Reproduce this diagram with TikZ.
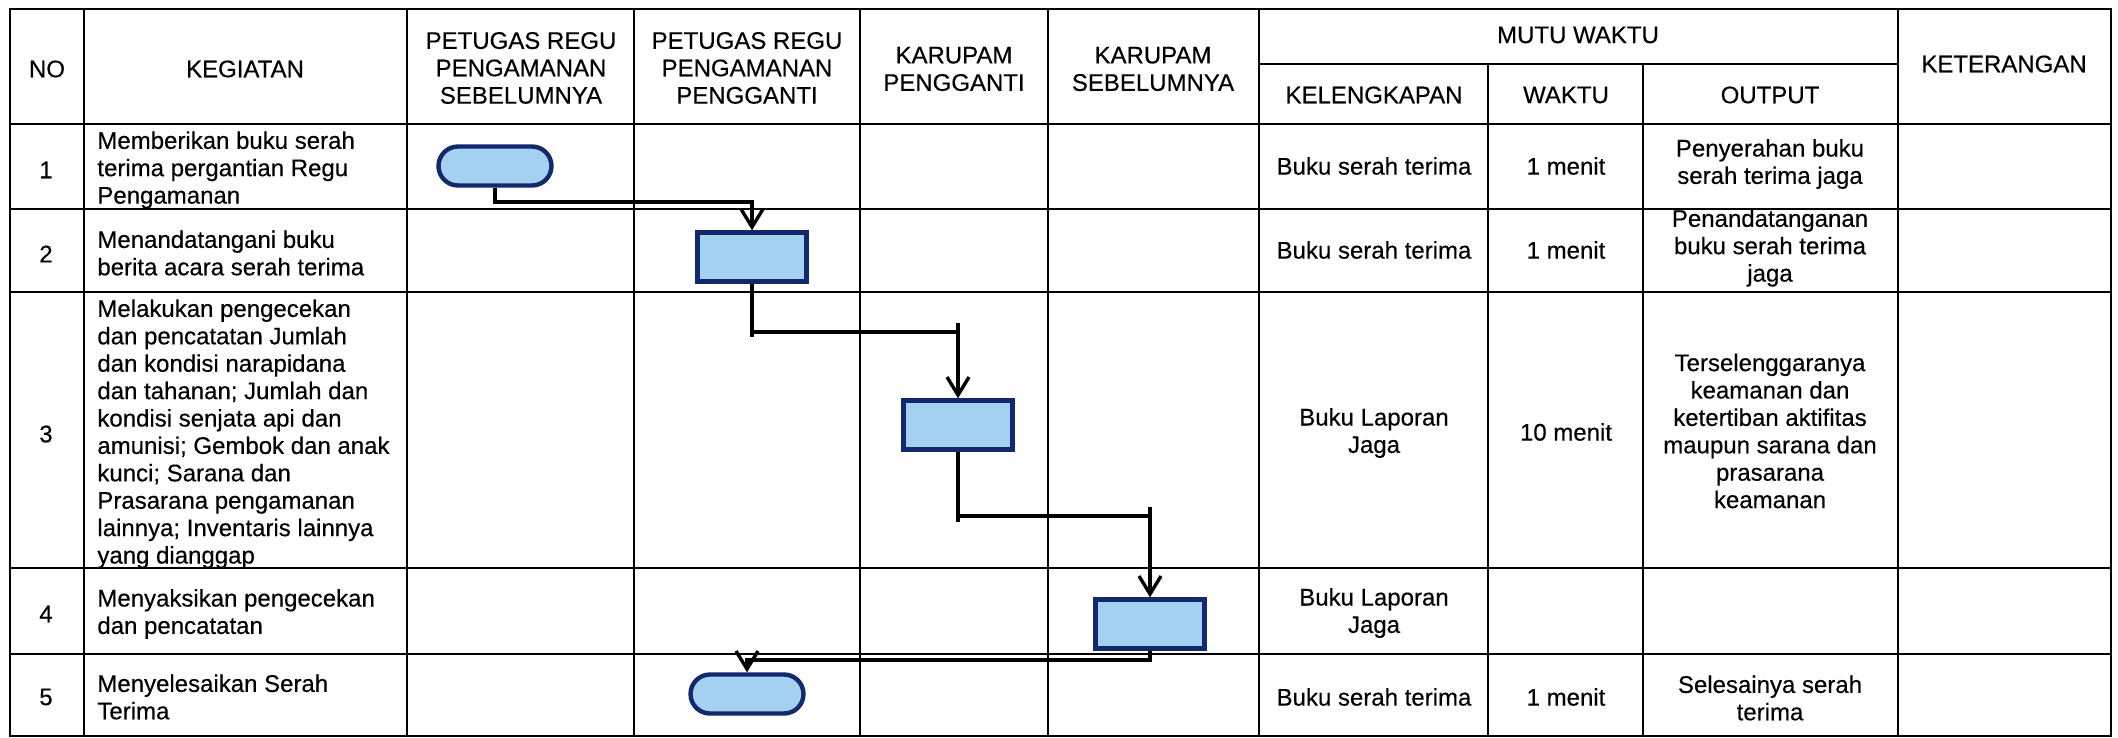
\documentclass[tikz,border=0pt]{standalone}
\usepackage{fontspec}
\setmainfont{Liberation Sans}[FakeBold=0.35]
\usetikzlibrary{arrows.meta,calc}
\definecolor{lblue}{HTML}{A4D0F2}
\definecolor{navy}{HTML}{14286E}
\begin{document}
\begin{tikzpicture}[x=0.5pt,y=-0.5pt,
  grid/.style={line width=1.2pt,black},
  txt/.style={font=\fontsize{12pt}{13.7pt}\selectfont, align=center, inner sep=0pt},
  keg/.style={txt, align=left, anchor=west},
  termbox/.style={draw=navy, fill=lblue, line width=2.2pt, rounded corners=9.75pt, minimum width=56.5pt, minimum height=19.5pt, inner sep=0pt},
  procbox/.style={draw=navy, fill=lblue, line width=2.2pt, minimum width=54.5pt, minimum height=24.5pt, inner sep=0pt},
  conn/.style={line width=1.7pt, black, line join=miter},
  arr/.style={-{Straight Barb[length=9pt,width=11pt]}}
]
\useasboundingbox (0,0) rectangle (2118,738);
% table grid
\draw[grid] (10,9) rectangle (2111,736);
\foreach \x in {84,407,634,860,1048,1259,1898} \draw[grid] (\x,9) -- (\x,736);
\foreach \x in {1488,1643} \draw[grid] (\x,64) -- (\x,736);
\foreach \y in {124,209,292,568,654} \draw[grid] (10,\y) -- (2111,\y);
\draw[grid] (1259,64) -- (1898,64);

% header
\node[txt] (hno) at (47,69) {NO};
\node[txt] (hkeg) at (245,69) {KEGIATAN};
\node[txt] (hprs) at (521,68) {PETUGAS REGU\\PENGAMANAN\\SEBELUMNYA};
\node[txt] (hprp) at (747,68) {PETUGAS REGU\\PENGAMANAN\\PENGGANTI};
\node[txt] (hkp) at (954,69) {KARUPAM\\PENGGANTI};
\node[txt] (hks) at (1153,69) {KARUPAM\\SEBELUMNYA};
\node[txt] (hmw) at (1578,35) {MUTU WAKTU};
\node[txt] (hkel) at (1374,95) {KELENGKAPAN};
\node[txt] (hwak) at (1566,95) {WAKTU};
\node[txt] (hout) at (1770,95) {OUTPUT};
\node[txt] (hket) at (2004,64) {KETERANGAN};

% NO column
\node[txt] (n1) at (46,170) {1};
\node[txt] (n2) at (46,254) {2};
\node[txt] (n3) at (46,434) {3};
\node[txt] (n4) at (46,614) {4};
\node[txt] (n5) at (46,697) {5};

% KEGIATAN column
\node[keg] (k1) at (97,170) {Memberikan buku serah\\terima pergantian Regu\\Pengamanan};
\node[keg] (k2) at (97,253) {Menandatangani buku\\berita acara serah terima};
\node[keg] (k3) at (97,434) {Melakukan pengecekan\\dan pencatatan Jumlah\\dan kondisi narapidana\\dan tahanan; Jumlah dan\\kondisi senjata api dan\\amunisi; Gembok dan anak\\kunci; Sarana dan\\Prasarana pengamanan\\lainnya; Inventaris lainnya\\yang dianggap};
\node[keg] (k4) at (97,614) {Menyaksikan pengecekan\\dan pencatatan};
\node[keg] (k5) at (97,697) {Menyelesaikan Serah\\Terima};

% KELENGKAPAN
\node[txt] (l1) at (1374,166) {Buku serah terima};
\node[txt] (l2) at (1374,250) {Buku serah terima};
\node[txt] (l3) at (1374,433) {Buku Laporan\\Jaga};
\node[txt] (l4) at (1374,613) {Buku Laporan\\Jaga};
\node[txt] (l5) at (1374,697) {Buku serah terima};

% WAKTU
\node[txt] (w1) at (1566,166) {1 menit};
\node[txt] (w2) at (1566,250) {1 menit};
\node[txt] (w3) at (1566,432) {10 menit};
\node[txt] (w5) at (1566,697) {1 menit};

% OUTPUT
\node[txt] (o1t) at (1770,164) {Penyerahan buku\\serah terima jaga};
\node[txt] (o2t) at (1770,248) {Penandatanganan\\buku serah terima\\jaga};
\node[txt] (o3t) at (1770,431) {Terselenggaranya\\keamanan dan\\ketertiban aktifitas\\maupun sarana dan\\prasarana\\keamanan};
\node[txt] (o5t) at (1770,698) {Selesainya serah\\terima};

% flow shapes
\node[termbox] (s1) at (495,166) {};
\node[procbox] (p2) at (752,257) {};
\node[procbox] (p3) at (958,425) {};
\node[procbox] (p4) at (1150,624) {};
\node[termbox] (s5) at (747,694) {};

\coordinate (j1) at (0,202);
\coordinate (j2) at (0,332);
\coordinate (j3) at (0,516);
\coordinate (j4) at (0,660);

% connectors
\draw[conn,arr] (s1.south) -- (s1.south |- j1) -| (p2.north);
\draw[conn,arr] (p2.south) -- (p2.south |- j2) -| (p3.north);
\draw[conn] (p2.south |- j2) -- ++(0,5);
\draw[conn] (p3.north |- j2) -- ++(0,-9);
\draw[conn,arr] (p3.south) -- (p3.south |- j3) -| (p4.north);
\draw[conn] (p3.south |- j3) -- ++(0,6);
\draw[conn] (p4.north |- j3) -- ++(0,-9);
\draw[conn,arr] (p4.south) -- (p4.south |- j4) -| (s5.north);
\end{tikzpicture}
\end{document}
